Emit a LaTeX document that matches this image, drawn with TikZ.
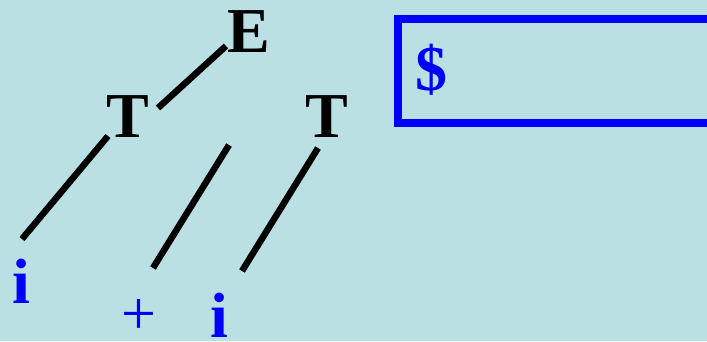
\documentclass[tikz,border=0pt]{standalone}
\usepackage{fontspec}
\setmainfont{Liberation Serif}
\usetikzlibrary{positioning}
\definecolor{slidebg}{RGB}{186,224,227}
\definecolor{tokblue}{RGB}{0,0,255}
\tikzset{
  nterm/.style ={inner sep=0pt, anchor=base, font=\fontsize{64}{64}\selectfont\bfseries, text=black},
  tok/.style   ={inner sep=0pt, anchor=base, font=\fontsize{64}{64}\selectfont\bfseries, text=tokblue},
  sym/.style   ={inner sep=0pt, anchor=base, font=\fontsize{62}{62}\selectfont, text=tokblue},
  edge/.style  ={draw, line width=6.5pt, black},
  stackbox/.style={draw, line width=8pt, tokblue},
}
\begin{document}
\begin{tikzpicture}[x=1pt, y=-1pt]
  \useasboundingbox (0,0) rectangle (707,341);
  \fill[slidebg] (0,0) rectangle (707,341);
  % parse tree
  \node[nterm] (E)  at (249,52)  {E};
  \node[nterm] (T1) at (128,137) {T};
  \node[nterm] (T2) at (327,137) {T};
  \node[tok]   (i1) at (21,303)  {i};
  \node[sym, text depth=0pt] (plus) at (139,334) {+};
  \node[tok, text depth=0pt] (i2) at (219,337) {i};
  \coordinate (loose) at (229,145);
  % edges
  \draw[edge] ([shift={(-23,-6)}]E.base) -- ([shift={(30,-29)}]T1.base);
  \draw[edge] ([shift={(-20,-1)}]T1.base) -- ([shift={(1,-64)}]i1.base);
  \draw[edge] (loose) -- ([shift={(14,-66)}]plus.base);
  \draw[edge] ([shift={(-9,11)}]T2.base) -- ([shift={(23,-66)}]i2.base);
  % stack
  \draw[stackbox] (712,19) -- (398,19) -- (398,123) -- (712,123);
  \node[tok, anchor=base west] (dollar) at (415,90) {\$};
\end{tikzpicture}
\end{document}
